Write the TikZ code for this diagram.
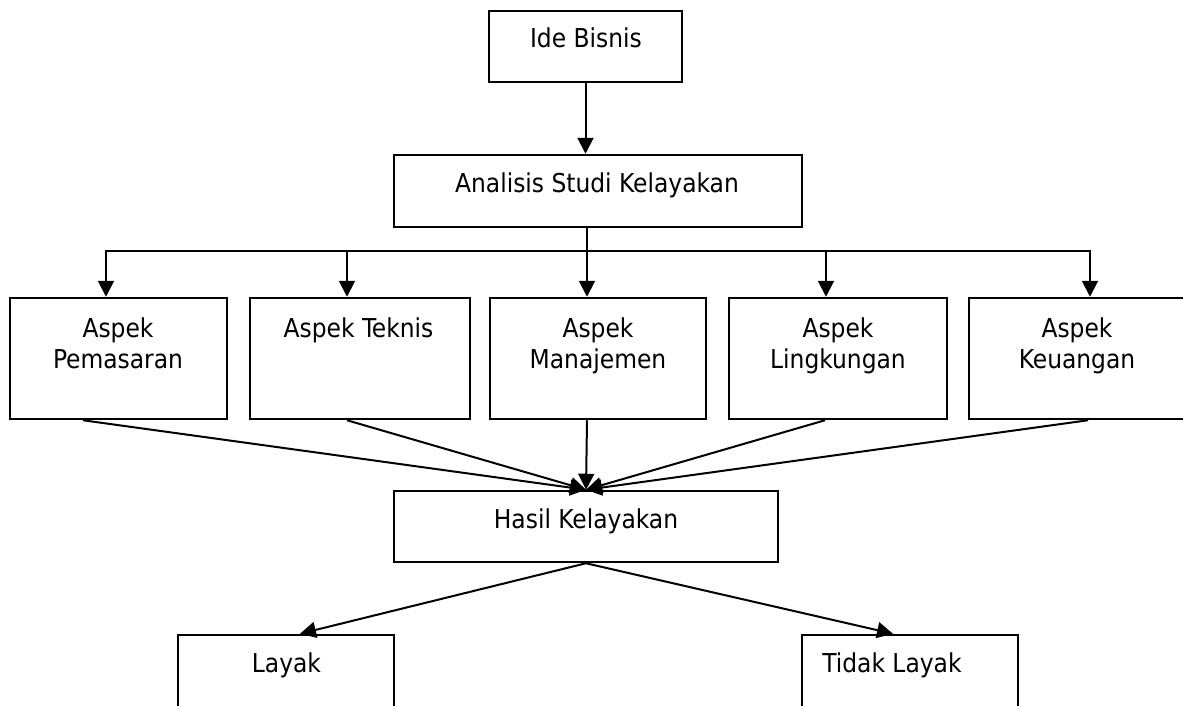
\documentclass[tikz,border=0pt]{standalone}
\usepackage{fontspec}
\setmainfont{DejaVu Sans Condensed}
\usetikzlibrary{arrows.meta}
\begin{document}
\begin{tikzpicture}[x=1pt,y=-1pt,
  box/.style={draw, line width=2.5pt, inner sep=0pt},
  txt/.style={inner sep=0pt, anchor=base, align=center, font=\fontsize{26}{31}\selectfont},
  conn/.style={line width=2pt},
  arr/.style={conn, -{Triangle[length=16pt,width=16pt]}}]
\clip (0,0) rectangle (1183,705);
\useasboundingbox (0,0) rectangle (1183,705);
% boxes
\node[box, minimum width=193pt, minimum height=71pt] (ide) at (585.5,46.5) {};
\node[box, minimum width=408pt, minimum height=72pt] (ana) at (598,191) {};
\node[box, minimum width=217pt, minimum height=121pt] (a1) at (118.5,358.5) {};
\node[box, minimum width=220pt, minimum height=121pt] (a2) at (360,358.5) {};
\node[box, minimum width=216pt, minimum height=121pt] (a3) at (598,358.5) {};
\node[box, minimum width=218pt, minimum height=121pt] (a4) at (838,358.5) {};
\node[box, minimum width=217pt, minimum height=121pt] (a5) at (1077.5,358.5) {};
\node[box, minimum width=384pt, minimum height=71pt] (hasil) at (586,526.5) {};
\node[box, minimum width=216pt, minimum height=95pt] (layak) at (286,682.5) {};
\node[box, minimum width=216pt, minimum height=95pt] (tidak) at (910,682.5) {};
% texts
\node[txt] (ideT) at (586,47) {Ide Bisnis};
\node[txt] (anaT) at (597,192) {Analisis Studi Kelayakan};
\node[txt] (a1T) at (118,368) {Aspek\\Pemasaran};
\node[txt] (a2T) at (358.5,337) {Aspek Teknis};
\node[txt] (a3T) at (598,368) {Aspek\\Manajemen};
\node[txt] (a4T) at (838,368) {Aspek\\Lingkungan};
\node[txt] (a5T) at (1077,368) {Aspek\\Keuangan};
\node[txt] (hasilT) at (586,528) {Hasil Kelayakan};
\node[txt] (layakT) at (286.5,672) {Layak};
\node[txt] (tidakT) at (892,672) {Tidak Layak};
% bus coordinates
\coordinate (b1) at (106,251);
\coordinate (b2) at (347,251);
\coordinate (b3) at (587,251);
\coordinate (b4) at (826,251);
\coordinate (b5) at (1090,251);
% connectors
\draw[arr] (ide.south) -- (ide.south |- ana.north);
\draw[arr] ([xshift=-11pt]ana.south) -- (b3 |- a3.north);
\draw[arr] (b3) -- (b1) -- (b1 |- a1.north);
\draw[arr] (b3) -- (b5) -- (b5 |- a5.north);
\draw[arr] (b2) -- (b2 |- a2.north);
\draw[arr] (b4) -- (b4 |- a4.north);
\draw[arr] ([xshift=-35.5pt]a1.south) -- (hasil.north);
\draw[arr] ([xshift=-13pt]a2.south) -- (hasil.north);
\draw[arr] ([xshift=-11pt]a3.south) -- (hasil.north);
\draw[arr] ([xshift=-13pt]a4.south) -- (hasil.north);
\draw[arr] ([xshift=10.5pt]a5.south) -- (hasil.north);
\draw[arr] (hasil.south) -- ([xshift=14pt]layak.north);
\draw[arr] (hasil.south) -- ([xshift=-17pt]tidak.north);
\end{tikzpicture}
\end{document}
